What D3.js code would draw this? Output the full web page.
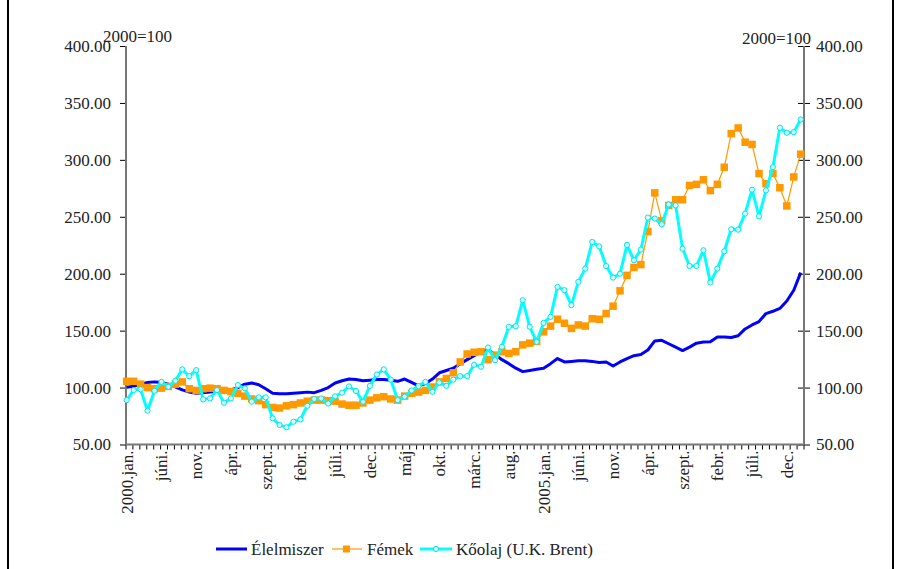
<!DOCTYPE html>
<html>
<head>
<meta charset="utf-8">
<script src="https://cdn.jsdelivr.net/npm/d3@7"></script>
<style>
  body { margin: 0; background: #fff; }
  svg { display: block; }
  text { font-family: "Liberation Serif", "Times New Roman", serif; fill: #222; }
</style>
</head>
<body>
<svg id="chart" width="906" height="569"></svg>
<script>
// monthly index, 2000 = 100, Jan 2000 - Feb 2008
var food = [
  100.2, 101.2, 103, 104.5, 105, 104.6, 103, 100.7, 98, 96, 95, 95.5,
  96, 97, 98, 98, 100, 103, 104, 102.5, 99, 95, 94.5, 94.5,
  95, 95.5, 96, 95.5, 97.5, 100, 104, 106, 107.5, 107, 106, 106.5,
  107, 107, 106.5, 105.5, 107.5, 104.5, 101.5, 103.5, 107.5, 113, 115, 117,
  121, 124.5, 128, 131, 133, 129, 124.5, 121, 117, 114, 115, 116,
  117, 121, 125.5, 122.5, 123, 123.5, 123.5, 123, 122, 122.5, 119, 122.5,
  125.5, 128, 129, 133, 141, 141.5, 138.5, 135.5, 132.5, 135.5, 139, 140,
  140.3, 144.5, 144.5, 144, 145.5, 151.5, 155, 158, 165, 167, 169.5, 176,
  185.5, 201
];
var metals = [
  105.5, 105.5, 103, 100, 99, 99.5, 101, 103, 105, 99, 97.5, 99,
  99.5, 99, 97.5, 96.5, 95, 92.5, 90, 88.5, 85, 82.5, 82, 84,
  85, 86.5, 88, 89, 89, 88.5, 88, 85.5, 84.5, 84.5, 86.5, 89,
  91, 92, 90, 89, 92.5, 95, 96, 97.5, 100.5, 105, 108, 113,
  122.5, 129.5, 131, 131.5, 124.5, 128.5, 131.5, 130, 131.5, 137.5, 139, 140.5,
  149, 154, 160, 156.5, 152, 155, 154, 160.5, 160, 165, 171.5, 185,
  198.5, 205.5, 208, 237, 271, 246.5, 260, 265, 265, 277.5, 278.5, 282.5,
  273, 278.5, 293.5, 323, 328, 315.5, 313.5, 288, 279, 288, 275.5, 259.5,
  285, 305
];
var brent = [
  89, 97.8, 98.4, 79.7, 97.2, 105, 100.7, 106, 116, 110, 115.3, 89.6,
  90.5, 97.8, 86.7, 90.5, 102.2, 99.3, 87.6, 91.4, 91.4, 73, 67.1, 65.1,
  70, 72, 84, 90, 90.5, 86, 92.3, 95.5, 101, 97, 87.6, 101.5,
  111.5, 116, 107, 89, 92, 97.5, 101.3, 105, 96.3, 104.5, 101.5, 107,
  110, 110, 120, 118.3, 135.2, 124, 135.8, 153.4, 153.9, 176.7, 153.4, 140.2,
  156.8, 162.1, 188.4, 185.5, 172.4, 192.8, 204.5, 227.9, 224, 206.7, 196.6, 200,
  225.3, 211.8, 221.2, 249.3, 248.4, 243.4, 260.8, 260, 222, 206.8, 206.8, 220.6,
  192.3, 204.5, 219.7, 239, 238.7, 252.8, 273.8, 250.4, 273.2, 293.6, 328.2, 323.8,
  324.3, 335.5
];
var monthLabels = ["2000.jan.", "júni.", "nov.", "ápr.", "szept.", "febr.", "júli.", "dec.",
  "máj", "okt.", "márc.", "aug.", "2005.jan.", "júni.", "nov.", "ápr.", "szept.", "febr.",
  "júli.", "dec."];
var yTicks = [50, 100, 150, 200, 250, 300, 350, 400];
var seriesNames = ["Élelmiszer", "Fémek", "Kőolaj (U.K. Brent)"];

var months = d3.range(food.length);

var svg = d3.select("#chart");
var plotL = 126, plotR = 804, plotT = 46, plotB = 444.5;

// frame
svg.append("line").attr("x1", 8).attr("x2", 8).attr("y1", 0).attr("y2", 569)
  .attr("stroke", "#000").attr("stroke-width", 2);
svg.append("line").attr("x1", 893).attr("x2", 893).attr("y1", 0).attr("y2", 569)
  .attr("stroke", "#000").attr("stroke-width", 2);

var x = d3.scalePoint().domain(months).range([126.7, 800.7]);
var xb = d3.scaleBand().domain(months).range([plotL, plotR]);
var y = d3.scaleLinear().domain([50, 400]).range([plotB, plotT]);

// x axis ticks (category boundaries)
var xtickPos = months.map(function (m) { return xb(m); }).concat([plotR]);
svg.append("g").selectAll("line").data(xtickPos).enter().append("line")
  .attr("x1", function (d) { return d; }).attr("x2", function (d) { return d; })
  .attr("y1", plotB).attr("y2", plotB + 5)
  .attr("stroke", "#000").attr("stroke-width", 1);

svg.append("g").selectAll("text").data(monthLabels).enter().append("text")
  .attr("transform", function (d, i) { return "translate(" + x(i * 5) + "," + (plotB + 6) + ") rotate(-90)"; })
  .attr("text-anchor", "end").attr("dy", "0.35em")
  .style("font-size", "17px")
  .text(function (d) { return d; });

// y axes
var yLeft = d3.axisLeft(y).tickValues(yTicks).tickSize(6).tickFormat(d3.format(".2f"));
var yRight = d3.axisRight(y).tickValues(yTicks).tickSize(6).tickFormat(d3.format(".2f"));

var gl = svg.append("g").attr("transform", "translate(" + plotL + ",0)").call(yLeft);
var gr = svg.append("g").attr("transform", "translate(" + plotR + ",0)").call(yRight);
[gl, gr].forEach(function (g) {
  g.select(".domain").remove();
  g.selectAll(".tick line").attr("stroke", "#000");
  g.selectAll(".tick text").style("font-size", "17px").attr("fill", "#222")
    .style("font-family", "'Liberation Serif', serif");
});
gl.selectAll(".tick text").attr("x", -15);
gr.selectAll(".tick line").attr("x1", -6);
gr.selectAll(".tick text").attr("x", 12);

// axis lines
svg.append("line").attr("x1", plotL).attr("x2", plotL).attr("y1", plotT).attr("y2", plotB)
  .attr("stroke", "#777").attr("stroke-width", 2);
svg.append("line").attr("x1", plotR).attr("x2", plotR).attr("y1", plotT).attr("y2", plotB)
  .attr("stroke", "#777").attr("stroke-width", 2);
svg.append("line").attr("x1", plotL).attr("x2", plotR).attr("y1", plotB).attr("y2", plotB)
  .attr("stroke", "#777").attr("stroke-width", 2);

svg.append("text").attr("x", 103).attr("y", 42).style("font-size", "17px").text("2000=100");
svg.append("text").attr("x", 811).attr("y", 44).attr("text-anchor", "end")
  .style("font-size", "17px").text("2000=100");

var line = d3.line()
  .x(function (d, i) { return x(i); })
  .y(function (d) { return y(d); });

// food
svg.append("path").datum(food).attr("d", line)
  .attr("fill", "none").attr("stroke", "#0000ff").attr("stroke-width", 3)
  .attr("stroke-linejoin", "round");

// metals
svg.append("path").datum(metals).attr("d", line)
  .attr("fill", "none").attr("stroke", "#ff9900").attr("stroke-width", 1.2);
svg.append("g").selectAll("rect").data(metals).enter().append("rect")
  .attr("x", function (d, i) { return x(i) - 3.75; })
  .attr("y", function (d) { return y(d) - 3.75; })
  .attr("width", 7.5).attr("height", 7.5)
  .attr("fill", "#ff9900");

// brent
svg.append("path").datum(brent).attr("d", line)
  .attr("fill", "none").attr("stroke", "#00ffff").attr("stroke-width", 3)
  .attr("stroke-linejoin", "round");
svg.append("g").selectAll("circle").data(brent).enter().append("circle")
  .attr("cx", function (d, i) { return x(i); })
  .attr("cy", function (d) { return y(d); })
  .attr("r", 2.6)
  .attr("fill", "#d8ffff").attr("stroke", "#00e5ee").attr("stroke-width", 1);

// legend
var lg = svg.append("g").attr("transform", "translate(0,549)");
lg.append("line").attr("x1", 216).attr("x2", 247).attr("y1", 0).attr("y2", 0)
  .attr("stroke", "#0000ff").attr("stroke-width", 3);
lg.append("text").attr("x", 251).attr("dy", "0.35em").style("font-size", "17px").text(seriesNames[0]);
lg.append("line").attr("x1", 332).attr("x2", 362).attr("y1", 0).attr("y2", 0)
  .attr("stroke", "#ff9900").attr("stroke-width", 1.2);
lg.append("rect").attr("x", 343).attr("y", -3.5).attr("width", 7).attr("height", 7).attr("fill", "#ff9900");
lg.append("text").attr("x", 367).attr("dy", "0.35em").style("font-size", "17px").text(seriesNames[1]);
lg.append("line").attr("x1", 420).attr("x2", 452).attr("y1", 0).attr("y2", 0)
  .attr("stroke", "#00ffff").attr("stroke-width", 3);
lg.append("circle").attr("cx", 436).attr("cy", 0).attr("r", 2.6)
  .attr("fill", "#d8ffff").attr("stroke", "#00e5ee").attr("stroke-width", 1);
lg.append("text").attr("x", 456).attr("dy", "0.35em").style("font-size", "17px").text(seriesNames[2]);
</script>
</body>
</html>
